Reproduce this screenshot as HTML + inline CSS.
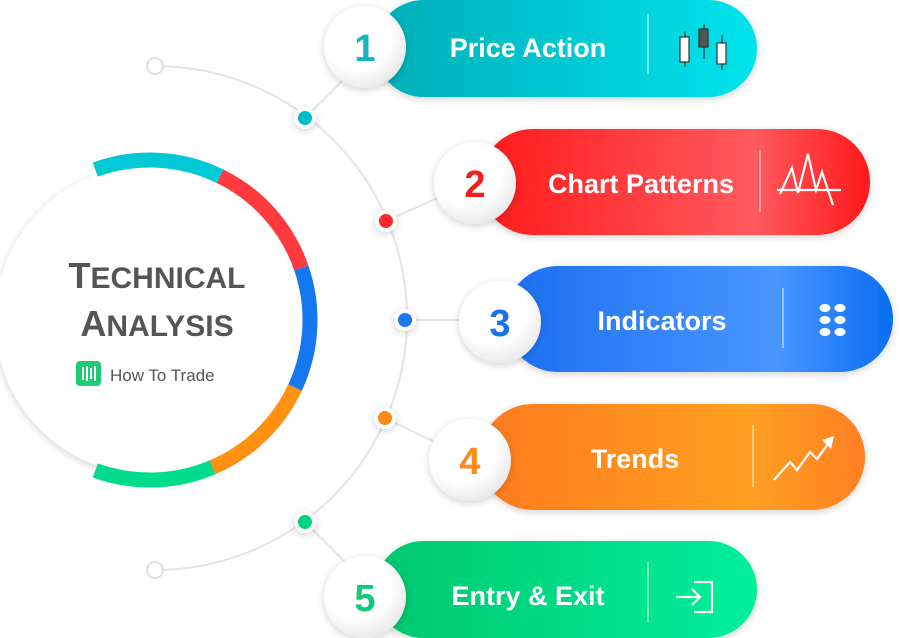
<!DOCTYPE html>
<html><head><meta charset="utf-8"><style>
html,body{margin:0;padding:0;background:#fff;width:900px;height:638px;overflow:hidden}
svg{display:block}
text{font-family:"Liberation Sans",sans-serif;font-weight:bold}
</style></head><body>
<svg width="900" height="638" viewBox="0 0 900 638" xmlns="http://www.w3.org/2000/svg">
<defs>
<linearGradient id="g1" x1="0" x2="1"><stop offset="0" stop-color="#00aeb8"/><stop offset="1" stop-color="#00e3ec"/></linearGradient>
<linearGradient id="g2" x1="0" x2="1"><stop offset="0" stop-color="#ff1a1a"/><stop offset="0.7" stop-color="#ff5a5f"/><stop offset="1" stop-color="#ff1a1a"/></linearGradient>
<linearGradient id="g3" x1="0" x2="1"><stop offset="0" stop-color="#1c6ff0"/><stop offset="0.7" stop-color="#4896ff"/><stop offset="1" stop-color="#0a6ef0"/></linearGradient>
<linearGradient id="g4" x1="0" x2="1"><stop offset="0" stop-color="#ff7a1f"/><stop offset="0.7" stop-color="#ffa020"/><stop offset="1" stop-color="#ff7f20"/></linearGradient>
<linearGradient id="g5" x1="0" x2="1"><stop offset="0" stop-color="#00c76f"/><stop offset="1" stop-color="#00f09a"/></linearGradient>
<radialGradient id="nc" cx="0.4" cy="0.35" r="0.7"><stop offset="0.6" stop-color="#ffffff"/><stop offset="1" stop-color="#e6e6e6"/></radialGradient>
<filter id="sh" x="-30%" y="-30%" width="160%" height="160%"><feDropShadow dx="0" dy="2" stdDeviation="4" flood-color="#000" flood-opacity="0.18"/></filter>
</defs>

<!-- big arc -->
<path d="M155 66 A252 252 0 0 1 407 318 A252 252 0 0 1 155 570" fill="none" stroke="#e4e4e4" stroke-width="2"/>
<circle cx="155" cy="66" r="8" fill="#fff" stroke="#e0e0e0" stroke-width="2"/>
<circle cx="155" cy="570" r="8" fill="#fff" stroke="#e0e0e0" stroke-width="2"/>

<!-- connectors -->
<g stroke="#e4e4e4" stroke-width="2">
<line x1="305" y1="118" x2="345" y2="78"/>
<line x1="386" y1="221" x2="440" y2="197"/>
<line x1="405" y1="320" x2="465" y2="320"/>
<line x1="385" y1="418" x2="435" y2="442"/>
<line x1="305" y1="522" x2="345" y2="562"/>
</g>
<g stroke="#fff" stroke-width="4" filter="url(#sh)">
<circle cx="305" cy="118" r="9" fill="#00bcc6"/>
<circle cx="386" cy="221" r="9" fill="#ff2a2a"/>
<circle cx="405" cy="320" r="9" fill="#1a7af0"/>
<circle cx="385" cy="418" r="9" fill="#ff8a1a"/>
<circle cx="305" cy="522" r="9" fill="#00d47f"/>
</g>

<!-- center circle -->
<circle cx="150" cy="320" r="155" fill="#fff" filter="url(#sh)"/>
<g fill="none" stroke-width="15">
<path d="M95.3 169.6 A160 160 0 0 1 220.1 176.2" stroke="#00c8d4"/>
<path d="M220.1 176.2 A160 160 0 0 1 301.3 267.9" stroke="#ff3a3f"/>
<path d="M301.3 267.9 A160 160 0 0 1 295 387.6" stroke="#1578f0"/>
<path d="M295 387.6 A160 160 0 0 1 212.5 467.3" stroke="#ff9010"/>
<path d="M212.5 467.3 A160 160 0 0 1 95.3 470.4" stroke="#00dc8a"/>
</g>
<text x="157" y="288" text-anchor="middle" fill="#555" font-size="30"><tspan font-size="36">T</tspan>ECHNICAL</text>
<text x="157" y="336" text-anchor="middle" fill="#555" font-size="30"><tspan font-size="36">A</tspan>NALYSIS</text>
<rect x="76" y="361" width="25" height="25" rx="4" fill="#1ccc72"/>
<g stroke="#fff" stroke-width="2"><line x1="83" y1="367" x2="83" y2="380"/><line x1="87" y1="366" x2="87" y2="381"/><line x1="91" y1="368" x2="91" y2="379"/><line x1="95" y1="366" x2="95" y2="381"/></g>
<text x="110" y="381" fill="#555" font-size="17" style="font-weight:normal">How To Trade</text>

<!-- pills -->
<g filter="url(#sh)">
<rect x="375" y="0" width="382" height="97" rx="48.5" fill="url(#g1)"/>
<rect x="480" y="129" width="390" height="106" rx="53" fill="url(#g2)"/>
<rect x="505" y="266" width="388" height="106" rx="53" fill="url(#g3)"/>
<rect x="480" y="404" width="385" height="106" rx="53" fill="url(#g4)"/>
<rect x="375" y="541" width="382" height="97" rx="48.5" fill="url(#g5)"/>
</g>
<g stroke="#fff" stroke-opacity="0.6" stroke-width="1.5">
<line x1="648" y1="14" x2="648" y2="74"/>
<line x1="760" y1="150" x2="760" y2="212"/>
<line x1="783" y1="288" x2="783" y2="348"/>
<line x1="753" y1="425" x2="753" y2="487"/>
<line x1="648" y1="562" x2="648" y2="622"/>
</g>
<g fill="#fff" font-size="27">
<text x="528" y="57" text-anchor="middle">Price Action</text>
<text x="641" y="193" text-anchor="middle">Chart Patterns</text>
<text x="662" y="330" text-anchor="middle">Indicators</text>
<text x="635" y="468" text-anchor="middle">Trends</text>
<text x="528" y="605" text-anchor="middle">Entry &amp; Exit</text>
</g>

<!-- icons -->
<g stroke="#333" stroke-width="1.2">
<line x1="685" y1="31" x2="685" y2="67"/><rect x="680" y="37" width="9" height="25" fill="#fff"/>
<line x1="704" y1="24" x2="704" y2="59"/><rect x="699" y="29" width="9" height="18" fill="#555"/>
<line x1="722" y1="35" x2="722" y2="70"/><rect x="717" y="43" width="9" height="21" fill="#fff"/>
</g>
<g stroke="#fff" stroke-width="2.2" fill="none">
<polyline points="780,194 792,168 798,193 808,154 816,190 822,172 833,205"/>
<line x1="777" y1="190" x2="841" y2="190"/>
<polyline points="774,480 790,462 797,470 810,452 817,459 828,444"/>
</g>
<polygon points="822,440 834,436 831,449" fill="#fff"/>
<g fill="#fff">
<ellipse cx="825" cy="308" rx="5.5" ry="4"/><ellipse cx="840" cy="308" rx="5.5" ry="4"/>
<ellipse cx="825" cy="320" rx="5.5" ry="4"/><ellipse cx="840" cy="320" rx="5.5" ry="4"/>
<ellipse cx="825" cy="332" rx="5.5" ry="4"/><ellipse cx="840" cy="332" rx="5.5" ry="4"/>
</g>
<g stroke="#fff" stroke-width="2.2" fill="none">
<polyline points="694,582 712,582 712,612 694,612"/>
<line x1="676" y1="597" x2="700" y2="597"/>
<polyline points="692,589 700,597 692,605"/>
</g>

<!-- number circles -->
<g filter="url(#sh)">
<circle cx="365" cy="47" r="41" fill="url(#nc)"/>
<circle cx="475" cy="183" r="41" fill="url(#nc)"/>
<circle cx="500" cy="322" r="41" fill="url(#nc)"/>
<circle cx="470" cy="460" r="41" fill="url(#nc)"/>
<circle cx="365" cy="597" r="41" fill="url(#nc)"/>
</g>
<g font-size="38" text-anchor="middle">
<text x="365" y="61" fill="#11b7bf">1</text>
<text x="475" y="197" fill="#f51c1c">2</text>
<text x="500" y="336" fill="#1a72ec">3</text>
<text x="470" y="474" fill="#ff8a1a">4</text>
<text x="365" y="611" fill="#11c978">5</text>
</g>
</svg>
</body></html>
